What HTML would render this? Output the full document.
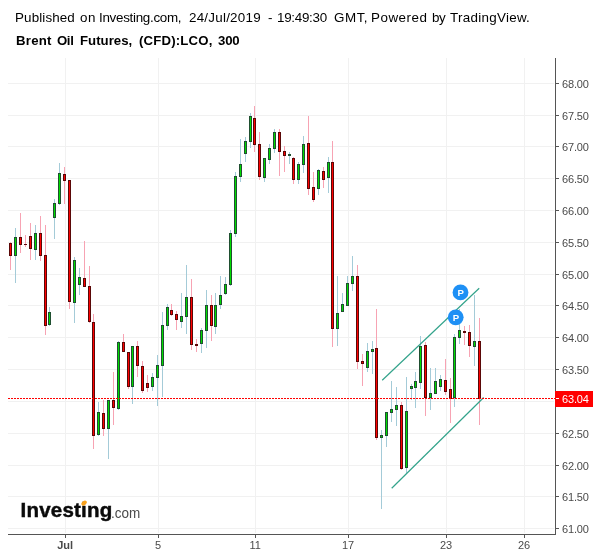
<!DOCTYPE html>
<html><head><meta charset="utf-8"><title>Brent Oil Futures</title>
<style>
html,body{margin:0;padding:0;background:#fff;}
body{width:600px;height:558px;position:relative;overflow:hidden;font-family:"Liberation Sans",sans-serif;}
.t1{position:absolute;left:-0.5px;top:9px;font-size:13px;line-height:18px;color:#000;white-space:nowrap;}
.t1 span,.t2 span{position:absolute;top:0;white-space:nowrap;display:inline-block;transform-origin:0 0;}
.t1 span{transform:scaleX(1.03);}
.t2 span{transform:scaleX(1.1);}
.t2{position:absolute;left:-0.5px;top:32px;font-size:12px;line-height:18px;font-weight:bold;color:#000;white-space:nowrap;}
.yl{position:absolute;left:562px;font-size:11px;line-height:13px;color:#4a4a4a;letter-spacing:-0.15px;white-space:nowrap;}
.xl{position:absolute;top:539px;width:40px;text-align:center;font-size:11px;line-height:13px;color:#4a4a4a;white-space:nowrap;}
.logo{position:absolute;left:20.6px;top:498px;white-space:nowrap;line-height:24px;}
.logo b{font-size:20.5px;color:#0a0a0a;letter-spacing:0.2px;-webkit-text-stroke:0.45px #0a0a0a;}
.logo span{display:inline-block;font-size:15px;color:#4a4a4a;transform-origin:0 100%;transform:scale(0.9,1);margin-left:-1.2px;position:relative;top:1px;}
.dot{position:absolute;left:81px;top:500.5px;width:6.4px;height:3.8px;background:#f9a11b;border-radius:50%;transform:rotate(-42deg);}
#w{position:absolute;left:0;top:0;width:600px;height:558px;will-change:transform;}
</style></head><body><div id="w">
<svg width="600" height="558" viewBox="0 0 600 558" style="position:absolute;left:0;top:0">
<g shape-rendering="crispEdges">
<rect x="8" y="83" width="546" height="1" fill="#f1f1f1"/>
<rect x="8" y="115" width="546" height="1" fill="#f1f1f1"/>
<rect x="8" y="146" width="546" height="1" fill="#f1f1f1"/>
<rect x="8" y="178" width="546" height="1" fill="#f1f1f1"/>
<rect x="8" y="210" width="546" height="1" fill="#f1f1f1"/>
<rect x="8" y="242" width="546" height="1" fill="#f1f1f1"/>
<rect x="8" y="274" width="546" height="1" fill="#f1f1f1"/>
<rect x="8" y="305" width="546" height="1" fill="#f1f1f1"/>
<rect x="8" y="337" width="546" height="1" fill="#f1f1f1"/>
<rect x="8" y="369" width="546" height="1" fill="#f1f1f1"/>
<rect x="8" y="401" width="546" height="1" fill="#f1f1f1"/>
<rect x="8" y="433" width="546" height="1" fill="#f1f1f1"/>
<rect x="8" y="465" width="546" height="1" fill="#f1f1f1"/>
<rect x="8" y="496" width="546" height="1" fill="#f1f1f1"/>
<rect x="8" y="528" width="546" height="1" fill="#f1f1f1"/>
<rect x="65" y="58" width="1" height="475" fill="#f1f1f1"/>
<rect x="158" y="58" width="1" height="475" fill="#f1f1f1"/>
<rect x="255" y="58" width="1" height="475" fill="#f1f1f1"/>
<rect x="348" y="58" width="1" height="475" fill="#f1f1f1"/>
<rect x="446" y="58" width="1" height="475" fill="#f1f1f1"/>
<rect x="524" y="58" width="1" height="475" fill="#f1f1f1"/>
<rect x="10" y="242" width="1" height="28" fill="#f7a3b3"/>
<rect x="9" y="243" width="3" height="13" fill="#5a0808"/>
<rect x="10" y="244" width="1" height="11" fill="#ff0000"/>
<rect x="15" y="228" width="1" height="55" fill="#a4cbd8"/>
<rect x="14" y="237" width="3" height="19" fill="#1f4f30"/>
<rect x="15" y="238" width="1" height="17" fill="#00dc00"/>
<rect x="20" y="213" width="1" height="40" fill="#f7a3b3"/>
<rect x="19" y="237" width="3" height="8" fill="#5a0808"/>
<rect x="20" y="238" width="1" height="6" fill="#ff0000"/>
<rect x="25" y="235" width="1" height="12" fill="#f7a3b3"/>
<rect x="24" y="244" width="3" height="1" fill="#5a0808"/>
<rect x="30" y="223" width="1" height="37" fill="#f7a3b3"/>
<rect x="29" y="236" width="3" height="13" fill="#5a0808"/>
<rect x="30" y="237" width="1" height="11" fill="#ff0000"/>
<rect x="35" y="225" width="1" height="35" fill="#a4cbd8"/>
<rect x="34" y="233" width="3" height="17" fill="#1f4f30"/>
<rect x="35" y="234" width="1" height="15" fill="#00dc00"/>
<rect x="40" y="216" width="1" height="45" fill="#f7a3b3"/>
<rect x="39" y="233" width="3" height="23" fill="#5a0808"/>
<rect x="40" y="234" width="1" height="21" fill="#ff0000"/>
<rect x="45" y="225" width="1" height="110" fill="#f7a3b3"/>
<rect x="44" y="255" width="3" height="71" fill="#5a0808"/>
<rect x="45" y="256" width="1" height="69" fill="#ff0000"/>
<rect x="49" y="307" width="1" height="19" fill="#a4cbd8"/>
<rect x="48" y="312" width="3" height="13" fill="#1f4f30"/>
<rect x="49" y="313" width="1" height="11" fill="#00dc00"/>
<rect x="54" y="199" width="1" height="40" fill="#a4cbd8"/>
<rect x="53" y="203" width="3" height="15" fill="#1f4f30"/>
<rect x="54" y="204" width="1" height="13" fill="#00dc00"/>
<rect x="59" y="163" width="1" height="42" fill="#a4cbd8"/>
<rect x="58" y="173" width="3" height="31" fill="#1f4f30"/>
<rect x="59" y="174" width="1" height="29" fill="#00dc00"/>
<rect x="64" y="167" width="1" height="37" fill="#f7a3b3"/>
<rect x="63" y="174" width="3" height="7" fill="#5a0808"/>
<rect x="64" y="175" width="1" height="5" fill="#ff0000"/>
<rect x="69" y="180" width="1" height="129" fill="#f7a3b3"/>
<rect x="68" y="180" width="3" height="122" fill="#5a0808"/>
<rect x="69" y="181" width="1" height="120" fill="#ff0000"/>
<rect x="74" y="257" width="1" height="66" fill="#a4cbd8"/>
<rect x="73" y="260" width="3" height="43" fill="#1f4f30"/>
<rect x="74" y="261" width="1" height="41" fill="#00dc00"/>
<rect x="79" y="268" width="1" height="27" fill="#a4cbd8"/>
<rect x="78" y="277" width="3" height="8" fill="#1f4f30"/>
<rect x="79" y="278" width="1" height="6" fill="#00dc00"/>
<rect x="84" y="241" width="1" height="46" fill="#f7a3b3"/>
<rect x="83" y="278" width="3" height="9" fill="#5a0808"/>
<rect x="84" y="279" width="1" height="7" fill="#ff0000"/>
<rect x="89" y="266" width="1" height="57" fill="#f7a3b3"/>
<rect x="88" y="286" width="3" height="36" fill="#5a0808"/>
<rect x="89" y="287" width="1" height="34" fill="#ff0000"/>
<rect x="93" y="314" width="1" height="135" fill="#f7a3b3"/>
<rect x="92" y="322" width="3" height="114" fill="#5a0808"/>
<rect x="93" y="323" width="1" height="112" fill="#ff0000"/>
<rect x="98" y="402" width="1" height="34" fill="#a4cbd8"/>
<rect x="97" y="412" width="3" height="23" fill="#1f4f30"/>
<rect x="98" y="413" width="1" height="21" fill="#00dc00"/>
<rect x="103" y="400" width="1" height="36" fill="#f7a3b3"/>
<rect x="102" y="413" width="3" height="16" fill="#5a0808"/>
<rect x="103" y="414" width="1" height="14" fill="#ff0000"/>
<rect x="108" y="400" width="1" height="59" fill="#a4cbd8"/>
<rect x="107" y="400" width="3" height="29" fill="#1f4f30"/>
<rect x="108" y="401" width="1" height="27" fill="#00dc00"/>
<rect x="113" y="372" width="1" height="53" fill="#f7a3b3"/>
<rect x="112" y="400" width="3" height="8" fill="#5a0808"/>
<rect x="113" y="401" width="1" height="6" fill="#ff0000"/>
<rect x="118" y="341" width="1" height="69" fill="#a4cbd8"/>
<rect x="117" y="342" width="3" height="67" fill="#1f4f30"/>
<rect x="118" y="343" width="1" height="65" fill="#00dc00"/>
<rect x="123" y="334" width="1" height="18" fill="#f7a3b3"/>
<rect x="122" y="342" width="3" height="10" fill="#5a0808"/>
<rect x="123" y="343" width="1" height="8" fill="#ff0000"/>
<rect x="128" y="352" width="1" height="37" fill="#f7a3b3"/>
<rect x="127" y="352" width="3" height="35" fill="#5a0808"/>
<rect x="128" y="353" width="1" height="33" fill="#ff0000"/>
<rect x="132" y="346" width="1" height="58" fill="#a4cbd8"/>
<rect x="131" y="346" width="3" height="41" fill="#1f4f30"/>
<rect x="132" y="347" width="1" height="39" fill="#00dc00"/>
<rect x="137" y="341" width="1" height="36" fill="#f7a3b3"/>
<rect x="136" y="346" width="3" height="20" fill="#5a0808"/>
<rect x="137" y="347" width="1" height="18" fill="#ff0000"/>
<rect x="142" y="361" width="1" height="32" fill="#f7a3b3"/>
<rect x="141" y="366" width="3" height="25" fill="#5a0808"/>
<rect x="142" y="367" width="1" height="23" fill="#ff0000"/>
<rect x="147" y="375" width="1" height="17" fill="#f7a3b3"/>
<rect x="146" y="383" width="3" height="5" fill="#5a0808"/>
<rect x="147" y="384" width="1" height="3" fill="#ff0000"/>
<rect x="152" y="373" width="1" height="18" fill="#a4cbd8"/>
<rect x="151" y="377" width="3" height="10" fill="#1f4f30"/>
<rect x="152" y="378" width="1" height="8" fill="#00dc00"/>
<rect x="157" y="355" width="1" height="51" fill="#a4cbd8"/>
<rect x="156" y="365" width="3" height="13" fill="#1f4f30"/>
<rect x="157" y="366" width="1" height="11" fill="#00dc00"/>
<rect x="162" y="312" width="1" height="85" fill="#a4cbd8"/>
<rect x="161" y="325" width="3" height="41" fill="#1f4f30"/>
<rect x="162" y="326" width="1" height="39" fill="#00dc00"/>
<rect x="167" y="304" width="1" height="26" fill="#a4cbd8"/>
<rect x="166" y="307" width="3" height="19" fill="#1f4f30"/>
<rect x="167" y="308" width="1" height="17" fill="#00dc00"/>
<rect x="171" y="304" width="1" height="12" fill="#f7a3b3"/>
<rect x="170" y="310" width="3" height="5" fill="#5a0808"/>
<rect x="171" y="311" width="1" height="3" fill="#ff0000"/>
<rect x="176" y="311" width="1" height="19" fill="#f7a3b3"/>
<rect x="175" y="314" width="3" height="6" fill="#5a0808"/>
<rect x="176" y="315" width="1" height="4" fill="#ff0000"/>
<rect x="181" y="293" width="1" height="35" fill="#a4cbd8"/>
<rect x="180" y="316" width="3" height="6" fill="#1f4f30"/>
<rect x="181" y="317" width="1" height="4" fill="#00dc00"/>
<rect x="186" y="265" width="1" height="69" fill="#a4cbd8"/>
<rect x="185" y="297" width="3" height="20" fill="#1f4f30"/>
<rect x="186" y="298" width="1" height="18" fill="#00dc00"/>
<rect x="191" y="279" width="1" height="71" fill="#f7a3b3"/>
<rect x="190" y="297" width="3" height="48" fill="#5a0808"/>
<rect x="191" y="298" width="1" height="46" fill="#ff0000"/>
<rect x="196" y="339" width="1" height="13" fill="#f7a3b3"/>
<rect x="195" y="344" width="3" height="2" fill="#5a0808"/>
<rect x="201" y="328" width="1" height="25" fill="#a4cbd8"/>
<rect x="200" y="330" width="3" height="14" fill="#1f4f30"/>
<rect x="201" y="331" width="1" height="12" fill="#00dc00"/>
<rect x="206" y="290" width="1" height="58" fill="#a4cbd8"/>
<rect x="205" y="305" width="3" height="26" fill="#1f4f30"/>
<rect x="206" y="306" width="1" height="24" fill="#00dc00"/>
<rect x="211" y="295" width="1" height="46" fill="#f7a3b3"/>
<rect x="210" y="305" width="3" height="21" fill="#5a0808"/>
<rect x="211" y="306" width="1" height="19" fill="#ff0000"/>
<rect x="215" y="293" width="1" height="41" fill="#a4cbd8"/>
<rect x="214" y="305" width="3" height="22" fill="#1f4f30"/>
<rect x="215" y="306" width="1" height="20" fill="#00dc00"/>
<rect x="220" y="276" width="1" height="33" fill="#a4cbd8"/>
<rect x="219" y="295" width="3" height="10" fill="#1f4f30"/>
<rect x="220" y="296" width="1" height="8" fill="#00dc00"/>
<rect x="225" y="277" width="1" height="18" fill="#a4cbd8"/>
<rect x="224" y="284" width="3" height="10" fill="#1f4f30"/>
<rect x="225" y="285" width="1" height="8" fill="#00dc00"/>
<rect x="230" y="230" width="1" height="56" fill="#a4cbd8"/>
<rect x="229" y="233" width="3" height="52" fill="#1f4f30"/>
<rect x="230" y="234" width="1" height="50" fill="#00dc00"/>
<rect x="235" y="172" width="1" height="65" fill="#a4cbd8"/>
<rect x="234" y="176" width="3" height="58" fill="#1f4f30"/>
<rect x="235" y="177" width="1" height="56" fill="#00dc00"/>
<rect x="240" y="139" width="1" height="43" fill="#a4cbd8"/>
<rect x="239" y="164" width="3" height="13" fill="#1f4f30"/>
<rect x="240" y="165" width="1" height="11" fill="#00dc00"/>
<rect x="245" y="137" width="1" height="25" fill="#a4cbd8"/>
<rect x="244" y="141" width="3" height="13" fill="#1f4f30"/>
<rect x="245" y="142" width="1" height="11" fill="#00dc00"/>
<rect x="250" y="113" width="1" height="35" fill="#a4cbd8"/>
<rect x="249" y="116" width="3" height="26" fill="#1f4f30"/>
<rect x="250" y="117" width="1" height="24" fill="#00dc00"/>
<rect x="254" y="106" width="1" height="46" fill="#f7a3b3"/>
<rect x="253" y="118" width="3" height="27" fill="#5a0808"/>
<rect x="254" y="119" width="1" height="25" fill="#ff0000"/>
<rect x="259" y="132" width="1" height="48" fill="#f7a3b3"/>
<rect x="258" y="144" width="3" height="33" fill="#5a0808"/>
<rect x="259" y="145" width="1" height="31" fill="#ff0000"/>
<rect x="264" y="158" width="1" height="24" fill="#a4cbd8"/>
<rect x="263" y="158" width="3" height="20" fill="#1f4f30"/>
<rect x="264" y="159" width="1" height="18" fill="#00dc00"/>
<rect x="269" y="144" width="1" height="20" fill="#a4cbd8"/>
<rect x="268" y="148" width="3" height="12" fill="#1f4f30"/>
<rect x="269" y="149" width="1" height="10" fill="#00dc00"/>
<rect x="274" y="129" width="1" height="24" fill="#a4cbd8"/>
<rect x="273" y="132" width="3" height="17" fill="#1f4f30"/>
<rect x="274" y="133" width="1" height="15" fill="#00dc00"/>
<rect x="279" y="129" width="1" height="47" fill="#f7a3b3"/>
<rect x="278" y="132" width="3" height="20" fill="#5a0808"/>
<rect x="279" y="133" width="1" height="18" fill="#ff0000"/>
<rect x="284" y="146" width="1" height="26" fill="#f7a3b3"/>
<rect x="283" y="151" width="3" height="5" fill="#5a0808"/>
<rect x="284" y="152" width="1" height="3" fill="#ff0000"/>
<rect x="289" y="152" width="1" height="12" fill="#a4cbd8"/>
<rect x="288" y="154" width="3" height="2" fill="#1f4f30"/>
<rect x="293" y="157" width="1" height="27" fill="#f7a3b3"/>
<rect x="292" y="158" width="3" height="22" fill="#5a0808"/>
<rect x="293" y="159" width="1" height="20" fill="#ff0000"/>
<rect x="298" y="162" width="1" height="22" fill="#a4cbd8"/>
<rect x="297" y="164" width="3" height="16" fill="#1f4f30"/>
<rect x="298" y="165" width="1" height="14" fill="#00dc00"/>
<rect x="303" y="136" width="1" height="37" fill="#a4cbd8"/>
<rect x="302" y="144" width="3" height="21" fill="#1f4f30"/>
<rect x="303" y="145" width="1" height="19" fill="#00dc00"/>
<rect x="308" y="116" width="1" height="79" fill="#f7a3b3"/>
<rect x="307" y="143" width="3" height="46" fill="#5a0808"/>
<rect x="308" y="144" width="1" height="44" fill="#ff0000"/>
<rect x="313" y="172" width="1" height="30" fill="#f7a3b3"/>
<rect x="312" y="187" width="3" height="13" fill="#5a0808"/>
<rect x="313" y="188" width="1" height="11" fill="#ff0000"/>
<rect x="318" y="169" width="1" height="26" fill="#a4cbd8"/>
<rect x="317" y="170" width="3" height="19" fill="#1f4f30"/>
<rect x="318" y="171" width="1" height="17" fill="#00dc00"/>
<rect x="323" y="167" width="1" height="21" fill="#f7a3b3"/>
<rect x="322" y="171" width="3" height="9" fill="#5a0808"/>
<rect x="323" y="172" width="1" height="7" fill="#ff0000"/>
<rect x="328" y="157" width="1" height="36" fill="#a4cbd8"/>
<rect x="327" y="162" width="3" height="16" fill="#1f4f30"/>
<rect x="328" y="163" width="1" height="14" fill="#00dc00"/>
<rect x="332" y="141" width="1" height="206" fill="#f7a3b3"/>
<rect x="331" y="162" width="3" height="167" fill="#5a0808"/>
<rect x="332" y="163" width="1" height="165" fill="#ff0000"/>
<rect x="337" y="276" width="1" height="70" fill="#a4cbd8"/>
<rect x="336" y="313" width="3" height="16" fill="#1f4f30"/>
<rect x="337" y="314" width="1" height="14" fill="#00dc00"/>
<rect x="342" y="293" width="1" height="19" fill="#a4cbd8"/>
<rect x="341" y="304" width="3" height="8" fill="#1f4f30"/>
<rect x="342" y="305" width="1" height="6" fill="#00dc00"/>
<rect x="347" y="276" width="1" height="30" fill="#a4cbd8"/>
<rect x="346" y="283" width="3" height="23" fill="#1f4f30"/>
<rect x="347" y="284" width="1" height="21" fill="#00dc00"/>
<rect x="352" y="256" width="1" height="35" fill="#a4cbd8"/>
<rect x="351" y="276" width="3" height="8" fill="#1f4f30"/>
<rect x="352" y="277" width="1" height="6" fill="#00dc00"/>
<rect x="357" y="265" width="1" height="104" fill="#f7a3b3"/>
<rect x="356" y="276" width="3" height="86" fill="#5a0808"/>
<rect x="357" y="277" width="1" height="84" fill="#ff0000"/>
<rect x="362" y="354" width="1" height="32" fill="#f7a3b3"/>
<rect x="361" y="361" width="3" height="3" fill="#5a0808"/>
<rect x="362" y="362" width="1" height="1" fill="#ff0000"/>
<rect x="367" y="343" width="1" height="29" fill="#a4cbd8"/>
<rect x="366" y="351" width="3" height="17" fill="#1f4f30"/>
<rect x="367" y="352" width="1" height="15" fill="#00dc00"/>
<rect x="372" y="341" width="1" height="33" fill="#a4cbd8"/>
<rect x="371" y="349" width="3" height="3" fill="#1f4f30"/>
<rect x="372" y="350" width="1" height="1" fill="#00dc00"/>
<rect x="376" y="309" width="1" height="131" fill="#f7a3b3"/>
<rect x="375" y="348" width="3" height="90" fill="#5a0808"/>
<rect x="376" y="349" width="1" height="88" fill="#ff0000"/>
<rect x="381" y="430" width="1" height="79" fill="#a4cbd8"/>
<rect x="380" y="435" width="3" height="3" fill="#1f4f30"/>
<rect x="381" y="436" width="1" height="1" fill="#00dc00"/>
<rect x="386" y="412" width="1" height="35" fill="#a4cbd8"/>
<rect x="385" y="412" width="3" height="24" fill="#1f4f30"/>
<rect x="386" y="413" width="1" height="22" fill="#00dc00"/>
<rect x="391" y="381" width="1" height="41" fill="#a4cbd8"/>
<rect x="390" y="409" width="3" height="4" fill="#1f4f30"/>
<rect x="391" y="410" width="1" height="2" fill="#00dc00"/>
<rect x="396" y="387" width="1" height="39" fill="#a4cbd8"/>
<rect x="395" y="405" width="3" height="5" fill="#1f4f30"/>
<rect x="396" y="406" width="1" height="3" fill="#00dc00"/>
<rect x="401" y="402" width="1" height="68" fill="#f7a3b3"/>
<rect x="400" y="405" width="3" height="64" fill="#5a0808"/>
<rect x="401" y="406" width="1" height="62" fill="#ff0000"/>
<rect x="406" y="377" width="1" height="96" fill="#a4cbd8"/>
<rect x="405" y="411" width="3" height="57" fill="#1f4f30"/>
<rect x="406" y="412" width="1" height="55" fill="#00dc00"/>
<rect x="411" y="384" width="1" height="16" fill="#a4cbd8"/>
<rect x="410" y="386" width="3" height="3" fill="#1f4f30"/>
<rect x="411" y="387" width="1" height="1" fill="#00dc00"/>
<rect x="415" y="372" width="1" height="36" fill="#a4cbd8"/>
<rect x="414" y="381" width="3" height="7" fill="#1f4f30"/>
<rect x="415" y="382" width="1" height="5" fill="#00dc00"/>
<rect x="420" y="336" width="1" height="53" fill="#a4cbd8"/>
<rect x="419" y="346" width="3" height="37" fill="#1f4f30"/>
<rect x="420" y="347" width="1" height="35" fill="#00dc00"/>
<rect x="425" y="342" width="1" height="74" fill="#f7a3b3"/>
<rect x="424" y="345" width="3" height="53" fill="#5a0808"/>
<rect x="425" y="346" width="1" height="51" fill="#ff0000"/>
<rect x="430" y="368" width="1" height="42" fill="#a4cbd8"/>
<rect x="429" y="393" width="3" height="5" fill="#1f4f30"/>
<rect x="430" y="394" width="1" height="3" fill="#00dc00"/>
<rect x="435" y="368" width="1" height="26" fill="#a4cbd8"/>
<rect x="434" y="381" width="3" height="13" fill="#1f4f30"/>
<rect x="435" y="382" width="1" height="11" fill="#00dc00"/>
<rect x="440" y="375" width="1" height="16" fill="#a4cbd8"/>
<rect x="439" y="379" width="3" height="8" fill="#1f4f30"/>
<rect x="440" y="380" width="1" height="6" fill="#00dc00"/>
<rect x="445" y="359" width="1" height="36" fill="#f7a3b3"/>
<rect x="444" y="380" width="3" height="12" fill="#5a0808"/>
<rect x="445" y="381" width="1" height="10" fill="#ff0000"/>
<rect x="450" y="378" width="1" height="45" fill="#f7a3b3"/>
<rect x="449" y="389" width="3" height="10" fill="#5a0808"/>
<rect x="450" y="390" width="1" height="8" fill="#ff0000"/>
<rect x="454" y="334" width="1" height="73" fill="#a4cbd8"/>
<rect x="453" y="337" width="3" height="61" fill="#1f4f30"/>
<rect x="454" y="338" width="1" height="59" fill="#00dc00"/>
<rect x="459" y="309" width="1" height="35" fill="#a4cbd8"/>
<rect x="458" y="330" width="3" height="8" fill="#1f4f30"/>
<rect x="459" y="331" width="1" height="6" fill="#00dc00"/>
<rect x="464" y="326" width="1" height="19" fill="#f7a3b3"/>
<rect x="463" y="331" width="3" height="2" fill="#5a0808"/>
<rect x="469" y="325" width="1" height="32" fill="#f7a3b3"/>
<rect x="468" y="332" width="3" height="14" fill="#5a0808"/>
<rect x="469" y="333" width="1" height="12" fill="#ff0000"/>
<rect x="474" y="295" width="1" height="71" fill="#a4cbd8"/>
<rect x="473" y="341" width="3" height="6" fill="#1f4f30"/>
<rect x="474" y="342" width="1" height="4" fill="#00dc00"/>
<rect x="479" y="318" width="1" height="107" fill="#f7a3b3"/>
<rect x="478" y="341" width="3" height="58" fill="#5a0808"/>
<rect x="479" y="342" width="1" height="56" fill="#ff0000"/>
<rect x="555" y="58" width="1" height="477" fill="#555555"/>
<rect x="8" y="534" width="548" height="1" fill="#555555"/>
<rect x="556" y="83" width="3" height="1" fill="#555555"/>
<rect x="556" y="115" width="3" height="1" fill="#555555"/>
<rect x="556" y="146" width="3" height="1" fill="#555555"/>
<rect x="556" y="178" width="3" height="1" fill="#555555"/>
<rect x="556" y="210" width="3" height="1" fill="#555555"/>
<rect x="556" y="242" width="3" height="1" fill="#555555"/>
<rect x="556" y="274" width="3" height="1" fill="#555555"/>
<rect x="556" y="305" width="3" height="1" fill="#555555"/>
<rect x="556" y="337" width="3" height="1" fill="#555555"/>
<rect x="556" y="369" width="3" height="1" fill="#555555"/>
<rect x="556" y="433" width="3" height="1" fill="#555555"/>
<rect x="556" y="465" width="3" height="1" fill="#555555"/>
<rect x="556" y="496" width="3" height="1" fill="#555555"/>
<rect x="556" y="528" width="3" height="1" fill="#555555"/>
<rect x="65" y="535" width="1" height="3" fill="#555555"/>
<rect x="158" y="535" width="1" height="3" fill="#555555"/>
<rect x="255" y="535" width="1" height="3" fill="#555555"/>
<rect x="348" y="535" width="1" height="3" fill="#555555"/>
<rect x="446" y="535" width="1" height="3" fill="#555555"/>
<rect x="524" y="535" width="1" height="3" fill="#555555"/>
<rect x="555" y="391" width="38" height="16" fill="#ff0000"/>
<rect x="556" y="398" width="3" height="1" fill="#ffffff"/>
</g>
<line x1="382.2" y1="380.3" x2="479.2" y2="288.3" stroke="#33a38b" stroke-width="1.2"/>
<line x1="391.7" y1="488.3" x2="483.7" y2="397.5" stroke="#33a38b" stroke-width="1.2"/>
<line x1="8" y1="398.5" x2="555" y2="398.5" stroke="#ff0000" stroke-width="1" stroke-dasharray="2 1" shape-rendering="crispEdges"/>
<circle cx="460.5" cy="292.4" r="7.9" fill="#1e90f5"/>
<text x="460.8" y="295.85" text-anchor="middle" font-family="Liberation Sans, sans-serif" font-weight="bold" font-size="9.6" fill="#ffffff">P</text>
<circle cx="455.7" cy="317.3" r="7.9" fill="#1e90f5"/>
<text x="456.0" y="320.75" text-anchor="middle" font-family="Liberation Sans, sans-serif" font-weight="bold" font-size="9.6" fill="#ffffff">P</text>
</svg>
<div class="t1"><span style="left:15.7px;letter-spacing:0.12px">Published</span><span style="left:80.8px;letter-spacing:0.49px">on</span><span style="left:99.5px;letter-spacing:-0.28px">Investing.com,</span><span style="left:189.0px;letter-spacing:0.23px">24/Jul/2019</span><span style="left:268.0px;letter-spacing:0.0px">-</span><span style="left:277.2px;letter-spacing:-0.28px">19:49:30</span><span style="left:334.2px;letter-spacing:0.52px">GMT,</span><span style="left:371.6px;letter-spacing:0.49px">Powered</span><span style="left:432.0px;letter-spacing:-0.49px">by</span><span style="left:450.9px;letter-spacing:0.28px">TradingView.</span></div>
<div class="t2"><span style="left:16.0px;letter-spacing:0.23px">Brent</span><span style="left:57.4px;letter-spacing:-0.36px">Oil</span><span style="left:80.4px;letter-spacing:0.01px">Futures,</span><span style="left:139.5px;letter-spacing:0.15px">(CFD):LCO,</span><span style="left:218.3px;letter-spacing:-0.14px">300</span></div>
<div class="yl" style="top:78px">68.00</div>
<div class="yl" style="top:110px">67.50</div>
<div class="yl" style="top:141px">67.00</div>
<div class="yl" style="top:173px">66.50</div>
<div class="yl" style="top:205px">66.00</div>
<div class="yl" style="top:237px">65.50</div>
<div class="yl" style="top:269px">65.00</div>
<div class="yl" style="top:300px">64.50</div>
<div class="yl" style="top:332px">64.00</div>
<div class="yl" style="top:364px">63.50</div>
<div class="yl" style="top:428px">62.50</div>
<div class="yl" style="top:460px">62.00</div>
<div class="yl" style="top:491px">61.50</div>
<div class="yl" style="top:523px">61.00</div>
<div class="yl" style="top:393px;color:#fff">63.04</div>
<div class="xl" style="left:45.1px;font-weight:bold;">Jul</div>
<div class="xl" style="left:138.1px;">5</div>
<div class="xl" style="left:235.1px;">11</div>
<div class="xl" style="left:328.1px;">17</div>
<div class="xl" style="left:426.1px;">23</div>
<div class="xl" style="left:504.1px;">26</div>
<div class="logo"><b>Investing</b><span>.com</span></div>
<div class="dot"></div>
</div></body></html>
